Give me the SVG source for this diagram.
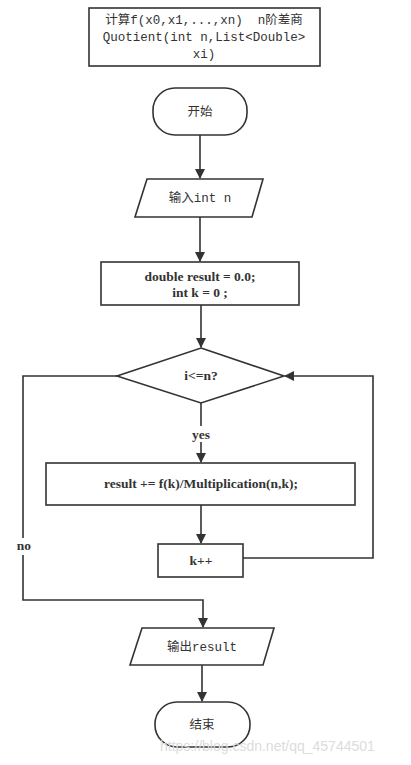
<svg xmlns="http://www.w3.org/2000/svg" width="411" height="765" viewBox="0 0 411 765">
<style>
.s{fill:#fff;stroke:#333;stroke-width:1.6}
.c{fill:none;stroke:#333;stroke-width:1.6}
.m{font-family:"Liberation Mono","Noto Sans CJK SC",monospace;font-size:12.5px;fill:#333;text-anchor:middle}
.t{font-family:"Liberation Serif","Times New Roman",serif;font-weight:bold;font-size:13.5px;fill:#333;text-anchor:middle}
.w{font-family:"Liberation Sans",Arial,sans-serif;font-size:14px;fill:#dcdcdc}
</style>
<defs>
<marker id="a" markerWidth="10" markerHeight="12" refX="9" refY="5" orient="auto" markerUnits="userSpaceOnUse">
<path d="M0,0 L10,5 L0,10 Z" fill="#333"/>
</marker>
</defs>
<rect width="411" height="765" fill="#fff"/>
<g id="title">
<rect class="s" x="89" y="8" width="231" height="58"/>
<text class="m" x="204" y="24" xml:space="preserve" style="white-space:pre">计算f(x0,x1,...,xn)  n阶差商</text>
<text class="m" x="204" y="41">Quotient(int n,List&lt;Double&gt;</text>
<text class="m" x="204" y="58">xi)</text>
</g>
<g id="connectors">
<line class="c" x1="200" y1="135" x2="200" y2="178" marker-end="url(#a)"/>
<line class="c" x1="200" y1="217" x2="200" y2="261" marker-end="url(#a)"/>
<line class="c" x1="201" y1="305" x2="201" y2="347" marker-end="url(#a)"/>
<line class="c" x1="201" y1="403" x2="201" y2="426"/>
<line class="c" x1="201" y1="442" x2="201" y2="462" marker-end="url(#a)"/>
<line class="c" x1="201" y1="505" x2="201" y2="543" marker-end="url(#a)"/>
<polyline class="c" points="243,558 373,558 373,376 285,376" marker-end="url(#a)"/>
<polyline class="c" points="117,376 23,376 23,538"/>
<polyline class="c" points="23,555 23,600 203,600 203,627" marker-end="url(#a)"/>
<line class="c" x1="202" y1="665" x2="202" y2="701" marker-end="url(#a)"/>
<text class="t" x="201" y="439">yes</text>
<text class="t" x="24" y="550">no</text>
</g>
<g id="start">
<rect class="s" x="153" y="88" width="94" height="47" rx="22"/>
<text class="m" x="200" y="116">开始</text>
</g>
<g id="input">
<polygon class="s" points="147,179 263,179 252,217 135,217"/>
<text class="m" x="200" y="202">输入int n</text>
</g>
<g id="init">
<rect class="s" x="101" y="262" width="198" height="43"/>
<text class="t" x="200" y="281">double result = 0.0;</text>
<text class="t" x="200" y="297">int k = 0 ;</text>
</g>
<g id="cond">
<polygon class="s" points="201,348 284,376 201,403 117,376"/>
<text class="t" x="201" y="380">i&lt;=n?</text>
</g>
<g id="accum">
<rect class="s" x="46" y="463" width="309" height="42"/>
<text class="t" x="201" y="488">result += f(k)/Multiplication(n,k);</text>
</g>
<g id="inc">
<rect class="s" x="158" y="544" width="85" height="33"/>
<text class="t" x="201" y="565">k++</text>
</g>
<g id="output">
<polygon class="s" points="142,628 274,628 263,665 130,665"/>
<text class="m" x="202" y="651">输出result</text>
</g>
<g id="end">
<rect class="s" x="155" y="702" width="95" height="45" rx="22"/>
<text class="m" x="202" y="729">结束</text>
</g>
<text class="w" x="160" y="751">https://blog.csdn.net/qq_45744501</text>
</svg>
